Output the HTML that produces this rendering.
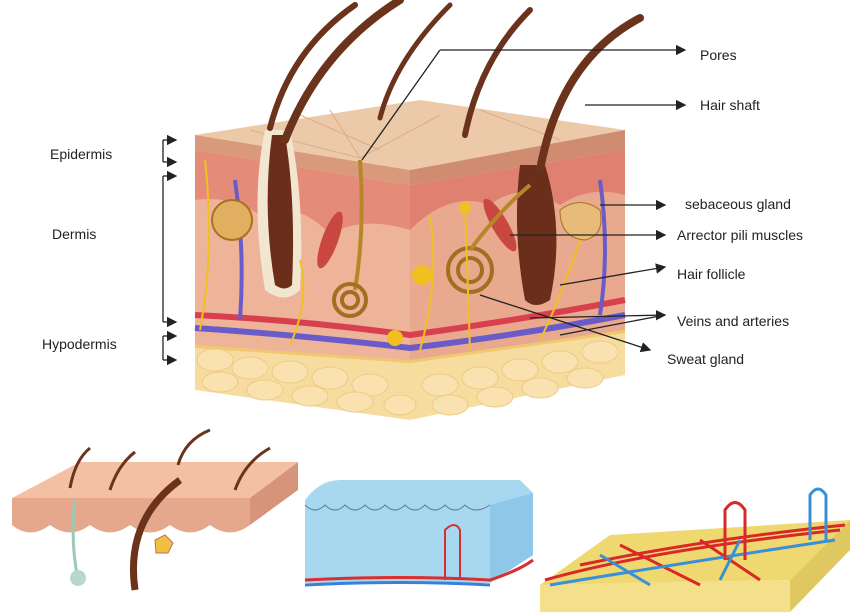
<!DOCTYPE html>
<html><head><meta charset="utf-8"><style>
html,body{margin:0;padding:0;background:#fff;width:852px;height:613px;overflow:hidden}
text{font-family:"Liberation Sans",Arial,sans-serif;font-size:14px;fill:#222}
</style></head><body>
<svg width="852" height="613" viewBox="0 0 852 613" xmlns="http://www.w3.org/2000/svg">
<defs>
<marker id="ar" markerWidth="8" markerHeight="8" refX="7" refY="4" orient="auto"><path d="M0,0 L8,4 L0,8z" fill="#222"/></marker>
</defs>
<!-- main block -->
<!-- hypodermis fat -->
<path d="M195,345 L410,360 L625,330 L625,375 L410,420 L195,390 Z" fill="#f7dca0"/>
<path d="M195,345 L410,360 L625,330" fill="none" stroke="#f0c870" stroke-width="6"/>
<g fill="#f9e2b0" stroke="#eccb85" stroke-width="1">
<ellipse cx="215" cy="360" rx="18" ry="11"/><ellipse cx="250" cy="368" rx="18" ry="11"/><ellipse cx="290" cy="372" rx="18" ry="11"/><ellipse cx="330" cy="378" rx="18" ry="11"/><ellipse cx="370" cy="385" rx="18" ry="11"/><ellipse cx="220" cy="382" rx="18" ry="10"/><ellipse cx="265" cy="390" rx="18" ry="10"/><ellipse cx="310" cy="396" rx="18" ry="10"/><ellipse cx="355" cy="402" rx="18" ry="10"/><ellipse cx="400" cy="405" rx="16" ry="10"/>
<ellipse cx="440" cy="385" rx="18" ry="11"/><ellipse cx="480" cy="378" rx="18" ry="11"/><ellipse cx="520" cy="370" rx="18" ry="11"/><ellipse cx="560" cy="362" rx="18" ry="11"/><ellipse cx="600" cy="352" rx="18" ry="11"/><ellipse cx="450" cy="405" rx="18" ry="10"/><ellipse cx="495" cy="397" rx="18" ry="10"/><ellipse cx="540" cy="388" rx="18" ry="10"/><ellipse cx="585" cy="378" rx="18" ry="10"/>
</g>
<!-- dermis front -->
<path d="M195,150 L410,185 L410,360 L195,345 Z" fill="#eeb49a"/>
<path d="M410,185 L625,150 L625,330 L410,360 Z" fill="#e8a98e"/>
<path d="M195,150 L410,185 L410,230 Q360,215 330,235 Q300,200 260,215 Q230,195 195,200Z" fill="#e58c78"/>
<path d="M410,185 L625,150 L625,195 Q590,185 560,205 Q520,180 490,205 Q450,190 410,230Z" fill="#e08070"/>
<!-- vessels -->
<path d="M195,315 Q300,320 410,335 Q520,320 625,300" stroke="#d84050" stroke-width="6" fill="none"/>
<path d="M195,328 Q300,335 410,348 Q520,335 625,315" stroke="#6a5cc8" stroke-width="6" fill="none"/>
<path d="M235,180 Q245,250 240,320" stroke="#6a5cc8" stroke-width="4" fill="none"/>
<path d="M600,180 Q610,250 600,315" stroke="#6a5cc8" stroke-width="4" fill="none"/>
<!-- epidermis top -->
<path d="M195,135 L420,100 L625,130 L410,170 Z" fill="#ecc9a8"/>
<path d="M195,135 L410,170 L410,185 L195,150Z" fill="#d89a7a"/>
<path d="M410,170 L625,130 L625,150 L410,185Z" fill="#cf8c70"/>
<g stroke="#d8ae8a" fill="none"><path d="M250,130 L360,158 L440,115 M300,115 L380,150 M480,110 L560,140 M360,158 L330,110"/></g>
<!-- hair follicles -->
<path d="M265,130 Q250,200 265,290 Q285,305 300,290 Q305,200 290,130Z" fill="#f3e6d0"/>
<path d="M272,135 Q262,210 275,285 Q285,292 292,285 Q296,200 285,135Z" fill="#6a2e1a"/>
<path d="M520,165 L545,165 Q565,230 550,300 Q535,310 525,300 Q512,230 520,165Z" fill="#6a2e1a"/>
<!-- hair shafts -->
<g fill="none" stroke="#6b331c" stroke-linecap="round">
<path d="M270,128 Q290,50 355,5" stroke-width="6"/>
<path d="M285,140 Q320,50 400,0" stroke-width="8"/>
<path d="M380,118 Q395,60 450,5" stroke-width="5"/>
<path d="M465,135 Q480,60 530,10" stroke-width="6"/>
<path d="M540,170 Q560,60 640,18" stroke-width="8"/>
</g>
<!-- muscles -->
<ellipse cx="330" cy="240" rx="8" ry="30" fill="#c84840" transform="rotate(20 330 240)"/>
<ellipse cx="500" cy="225" rx="8" ry="30" fill="#c84840" transform="rotate(-30 500 225)"/>
<!-- sebaceous -->
<circle cx="232" cy="220" r="20" fill="#e0b060" stroke="#a87020" stroke-width="2"/>
<path d="M560,210 Q580,195 600,210 Q605,235 585,240 Q560,238 560,210Z" fill="#e8bb78" stroke="#a87020"/>
<!-- sweat glands -->
<path d="M360,160 Q365,230 355,290" stroke="#b8862a" stroke-width="4" fill="none"/>
<g fill="none" stroke="#a07020" stroke-width="4"><circle cx="350" cy="300" r="16"/><circle cx="350" cy="300" r="8"/>
<circle cx="470" cy="270" r="22"/><circle cx="470" cy="270" r="12"/></g>
<path d="M470,250 Q500,210 530,185" stroke="#b8862a" stroke-width="4" fill="none"/>
<!-- nerves -->
<g stroke="#f0c020" stroke-width="2" fill="none"><path d="M205,160 Q215,250 200,330 M430,215 Q440,280 420,350 M465,205 L470,350 M300,260 Q310,300 290,345 M580,240 Q560,300 540,340"/></g>
<circle cx="422" cy="275" r="10" fill="#f0c020"/><circle cx="465" cy="208" r="6" fill="#f0c020"/><circle cx="395" cy="338" r="8" fill="#f0c020"/>
<!-- label lines -->
<g stroke="#222" stroke-width="1.3" fill="none">
<path d="M440,50 L685,50" marker-end="url(#ar)"/>
<path d="M440,50 L362,160"/>
<path d="M585,105 L685,105" marker-end="url(#ar)"/>
<path d="M600,205 L665,205" marker-end="url(#ar)"/>
<path d="M510,235 L665,235" marker-end="url(#ar)"/>
<path d="M560,285 L665,267" marker-end="url(#ar)"/>
<path d="M530,318 L665,315" marker-end="url(#ar)"/>
<path d="M560,335 L665,315"/>
<path d="M480,295 L650,350" marker-end="url(#ar)"/>
<path d="M163,140 L163,162 M163,176 L163,322 M163,336 L163,360"/>
<path d="M163,140 L176,140" marker-end="url(#ar)"/><path d="M163,162 L176,162" marker-end="url(#ar)"/>
<path d="M163,176 L176,176" marker-end="url(#ar)"/><path d="M163,322 L176,322" marker-end="url(#ar)"/>
<path d="M163,336 L176,336" marker-end="url(#ar)"/><path d="M163,360 L176,360" marker-end="url(#ar)"/>
</g>
<text x="700" y="60">Pores</text>
<text x="700" y="110">Hair shaft</text>
<text x="685" y="209">sebaceous gland</text>
<text x="677" y="240">Arrector pili muscles</text>
<text x="677" y="279">Hair follicle</text>
<text x="677" y="326">Veins and arteries</text>
<text x="667" y="364">Sweat gland</text>
<text x="50" y="159">Epidermis</text>
<text x="52" y="239">Dermis</text>
<text x="42" y="349">Hypodermis</text>
<!-- bottom 1 -->
<path d="M12,498 L80,462 L298,462 L250,498Z" fill="#f4c0a4"/>
<path d="M12,498 L250,498 L250,525 Q230,540 210,525 Q190,540 170,525 Q150,540 130,525 Q110,540 90,525 Q70,540 50,525 Q30,540 12,525Z" fill="#e5a88c"/>
<path d="M250,498 L298,462 L298,490 L250,525Z" fill="#d6957a"/>
<path d="M75,500 Q70,540 78,580" stroke="#9bc8b8" stroke-width="3" fill="none"/><circle cx="78" cy="578" r="8" fill="#b8d8cc"/>
<path d="M135,590 Q125,520 180,480" stroke="#6b331c" stroke-width="7" fill="none"/>
<path d="M155,540 l10,-5 8,8 -5,10 -12,0z" fill="#f0c040" stroke="#c07060"/>
<g stroke="#6b331c" stroke-width="3" fill="none"><path d="M70,488 Q75,460 90,448 M110,490 Q118,465 135,452 M178,465 Q185,440 210,430 M235,490 Q245,462 270,448"/></g>
<!-- bottom 2 -->
<path d="M305,500 Q320,480 340,480 L520,480 L533,493 L533,555 L490,583 L305,583Z" fill="#a8d8f0"/>
<path d="M490,505 L533,493 L533,555 L490,583Z" fill="#8ec8e8"/>
<path d="M305,505 Q315,515 325,505 Q335,515 345,505 Q355,515 365,505 Q375,515 385,505 Q395,515 405,505 Q415,515 425,505 Q435,515 445,505 Q455,515 465,505 Q475,515 490,505" stroke="#5a7d9a" fill="none"/>
<path d="M305,580 Q400,575 490,580 Q520,570 533,560" stroke="#d83030" stroke-width="3" fill="none"/>
<path d="M305,585 Q400,580 490,585" stroke="#3a80d8" stroke-width="3" fill="none"/>
<path d="M445,580 L445,530 Q455,520 460,530 L460,580" stroke="#d83030" stroke-width="2" fill="none"/>
<!-- bottom 3 -->
<path d="M540,585 L610,535 L850,520 L790,580Z" fill="#f0d870"/>
<path d="M540,585 L790,580 L790,612 L540,612Z" fill="#f4e08a"/>
<path d="M790,580 L850,520 L850,550 L790,612Z" fill="#e0c860"/>
<g stroke="#d82828" stroke-width="3" fill="none"><path d="M545,580 Q650,550 840,530 M580,565 Q700,540 845,525 M620,545 L700,585 M700,540 L760,580"/></g>
<g stroke="#3a90d8" stroke-width="3" fill="none"><path d="M550,585 Q670,565 835,540 M600,555 L650,585 M740,540 L720,580"/></g>
<path d="M725,560 L725,510 Q735,495 745,510 L745,560" stroke="#d82828" stroke-width="3" fill="none"/>
<path d="M810,540 L810,495 Q818,483 826,495 L826,540" stroke="#3a90d8" stroke-width="3" fill="none"/>
</svg>
</body></html>
